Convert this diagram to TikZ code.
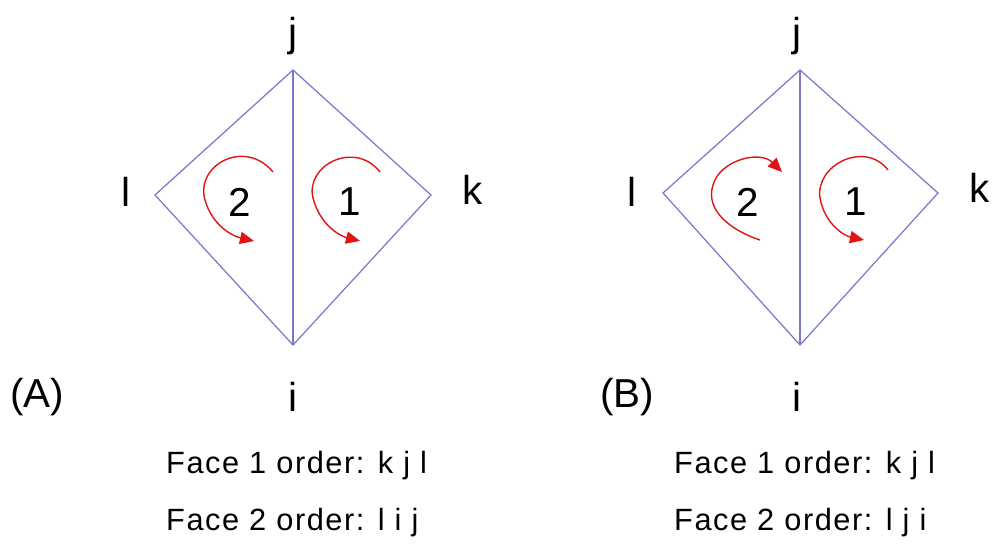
\documentclass[tikz,border=0pt]{standalone}
\usepackage{fontspec}
\setmainfont{Liberation Sans}
\usetikzlibrary{arrows.meta,positioning}
\definecolor{edgeblue}{RGB}{120,120,205}
\definecolor{turnred}{RGB}{225,20,20}

\begin{document}
\begin{tikzpicture}[
    x=0.02cm, y=-0.02cm,
    edge/.style={draw=edgeblue, line width=0.7pt},
    turn/.style={draw=turnred, line width=0.8pt, -{Triangle[length=8pt,width=7pt]}},
    lbl/.style={font=\fontsize{23}{26}\selectfont},
    facetxt/.style={font=\fontsize{17.5}{20}\selectfont\addfontfeatures{LetterSpace=5}, anchor=west}
]
    \useasboundingbox (0,0) rectangle (992,545);

    % (A) vertices
    \coordinate (aj) at (293,70);
    \coordinate (al) at (155,195);
    \coordinate (ak) at (431,195);
    \coordinate (ai) at (293,345);
    \draw[edge] (aj) -- (ak) -- (ai) -- (al) -- cycle;
    \draw[edge] (aj) -- (ai);

    \node[lbl] (ajl) at (293,36) {j};
    \node[lbl] (all) at (126,192) {l};
    \node[lbl] (akl) at (473,190) {k};
    \node[lbl] (ail) at (293,397) {i};
    \node[lbl] (atag) at (37,397) {(A)};
    \node[lbl] (af2) at (240,202) {2};
    \node[lbl] (af1) at (350,202) {1};

    % (A) turning arrows
    \coordinate (a2s) at (273,172);
    \coordinate (a2e) at (254,241);
    \coordinate (a1s) at (380,172);
    \coordinate (a1e) at (360,241);
    \draw[turn] (a2s) .. controls (245,138) and (195,165) .. (205,200)
        .. controls (212,225) and (232,236) .. (a2e);
    \draw[turn] (a1s) .. controls (355,140) and (305,165) .. (313,198)
        .. controls (320,225) and (340,236) .. (a1e);

    \node[facetxt] (aface1) at (160,466) {Face 1 order: k j l};
    \node[facetxt] (aface2) at (160,523) {Face 2 order: l i j};

    % (B) vertices
    \coordinate (bj) at (800,70);
    \coordinate (bl) at (663,193);
    \coordinate (bk) at (938,193);
    \coordinate (bi) at (800,345);
    \draw[edge] (bj) -- (bk) -- (bi) -- (bl) -- cycle;
    \draw[edge] (bj) -- (bi);

    \node[lbl] (bjl) at (797,36) {j};
    \node[lbl] (bll) at (632,192) {l};
    \node[lbl] (bkl) at (980,188) {k};
    \node[lbl] (bil) at (797,397) {i};
    \node[lbl] (btag) at (627,397) {(B)};
    \node[lbl] (bf2) at (748,202) {2};
    \node[lbl] (bf1) at (856,202) {1};

    % (B) turning arrows
    \coordinate (b2s) at (760,240);
    \coordinate (b2e) at (782,172);
    \coordinate (b1s) at (888,170);
    \coordinate (b1e) at (864,240);
    \draw[turn] (b2s) .. controls (730,230) and (705,210) .. (713,185)
        .. controls (720,160) and (760,150) .. (b2e);
    \draw[turn] (b1s) .. controls (865,140) and (815,165) .. (820,198)
        .. controls (825,225) and (845,236) .. (b1e);

    \node[facetxt] (bface1) at (668,466) {Face 1 order: k j l};
    \node[facetxt] (bface2) at (668,523) {Face 2 order: l j i};
\end{tikzpicture}
\end{document}
